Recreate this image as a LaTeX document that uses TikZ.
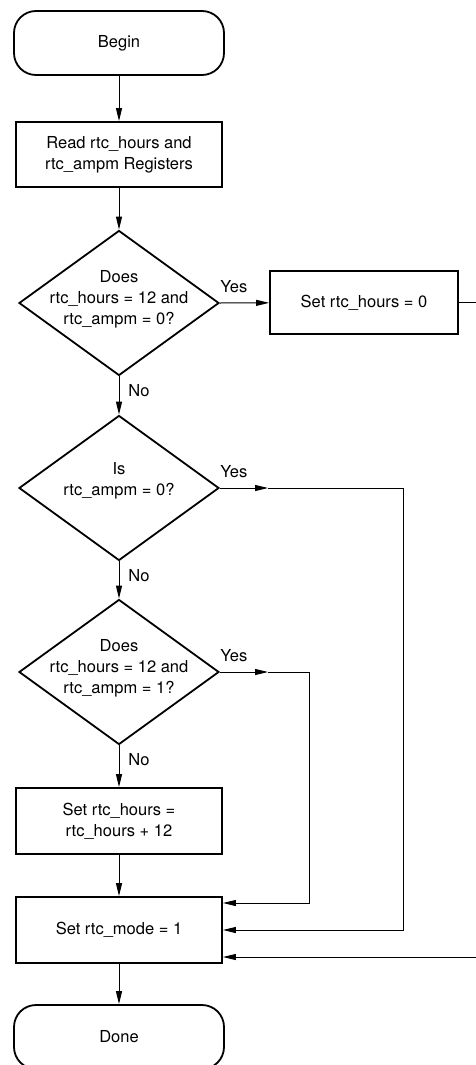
\documentclass[tikz,border=0pt]{standalone}
\usepackage{fontspec}
\setmainfont{TeX Gyre Heros}
\usetikzlibrary{shapes.geometric,arrows.meta,calc}

\begin{document}
\begin{tikzpicture}[
    x=1pt, y=-1pt,
    every node/.style={font=\fontsize{16.5}{21}\selectfont},
    term/.style={draw, line width=1.8pt, rounded corners=22pt, minimum width=210pt, minimum height=64pt},
    proc/.style={draw, line width=1.8pt, align=center, minimum width=206pt, minimum height=65pt},
    dec/.style={draw, line width=1.8pt, diamond, inner sep=0pt, minimum width=200pt, minimum height=145pt},
    txt/.style={align=center, inner sep=0pt},
    lbl/.style={inner sep=0pt},
    arr/.style={-{Triangle[length=13pt,width=6pt]}, line width=1pt},
    wire/.style={line width=1pt}
]
    \fill[white] (0,0) rectangle (475,1065);
    \useasboundingbox (0,0) rectangle (475,1065);

    \node[term] (begin) at (119,43) {Begin};
    \node[proc] (read) at (119,154.5) {Read rtc\_hours and\\rtc\_ampm Registers};

    \node[dec] (d1) at (119,303) {};
    \node[txt] (d1t) at ($(d1)+(0,-4)$) {Does\\rtc\_hours = 12 and\\rtc\_ampm = 0?};
    \node[proc, minimum width=188pt, minimum height=63pt] (zero) at (364,302.5) {Set rtc\_hours = 0};

    \node[dec] (d2) at (119,488) {};
    \node[txt] (d2t) at ($(d2)+(0,-7)$) {Is\\rtc\_ampm = 0?};

    \node[dec] (d3) at (119,672) {};
    \node[txt] (d3t) at ($(d3)+(0,-4)$) {Does\\rtc\_hours = 12 and\\rtc\_ampm = 1?};

    \node[proc, minimum height=66pt] (add) at (119,821) {Set rtc\_hours =\\rtc\_hours + 12};
    \node[proc, minimum height=66pt] (mode) at (119,930) {Set rtc\_mode = 1};
    \node[term] (done) at (119,1037) {Done};

    % labels
    \node[lbl] (y1) at ($(d1.east)+(14,-16)$) {Yes};
    \node[lbl] (y2) at ($(d2.east)+(14,-16)$) {Yes};
    \node[lbl] (y3) at ($(d3.east)+(14,-16)$) {Yes};
    \node[lbl] (n1) at ($(d1.south)+(20,14)$) {No};
    \node[lbl] (n2) at ($(d2.south)+(20,14)$) {No};
    \node[lbl] (n3) at ($(d3.south)+(20,14)$) {No};

    % main column
    \draw[arr] (begin) -- (read);
    \draw[arr] (read) -- (d1.north);
    \draw[arr] (d1.south) -- (d2.north);
    \draw[arr] (d2.south) -- (d3.north);
    \draw[arr] (d3.south) -- (add);
    \draw[arr] (add) -- (mode);
    \draw[arr] (mode) -- (done);

    % yes branches
    \coordinate (m2) at (268,488);
    \coordinate (m3) at (268,672);
    \coordinate (c1) at (482,302.5);
    \coordinate (c2) at (403,488);
    \coordinate (c3) at (309,672);

    \draw[arr] (d1.east) -- (zero);
    \draw[wire] (zero.east) -- (c1);
    \draw[arr] (c1) |- ($(mode.east)+(0,27)$);

    \draw[arr] (d2.east) -- (m2);
    \draw[wire] (m2) -- (c2);
    \draw[arr] (c2) |- (mode.east);

    \draw[arr] (d3.east) -- (m3);
    \draw[wire] (m3) -- (c3);
    \draw[arr] (c3) |- ($(mode.east)+(0,-27)$);
\end{tikzpicture}
\end{document}
